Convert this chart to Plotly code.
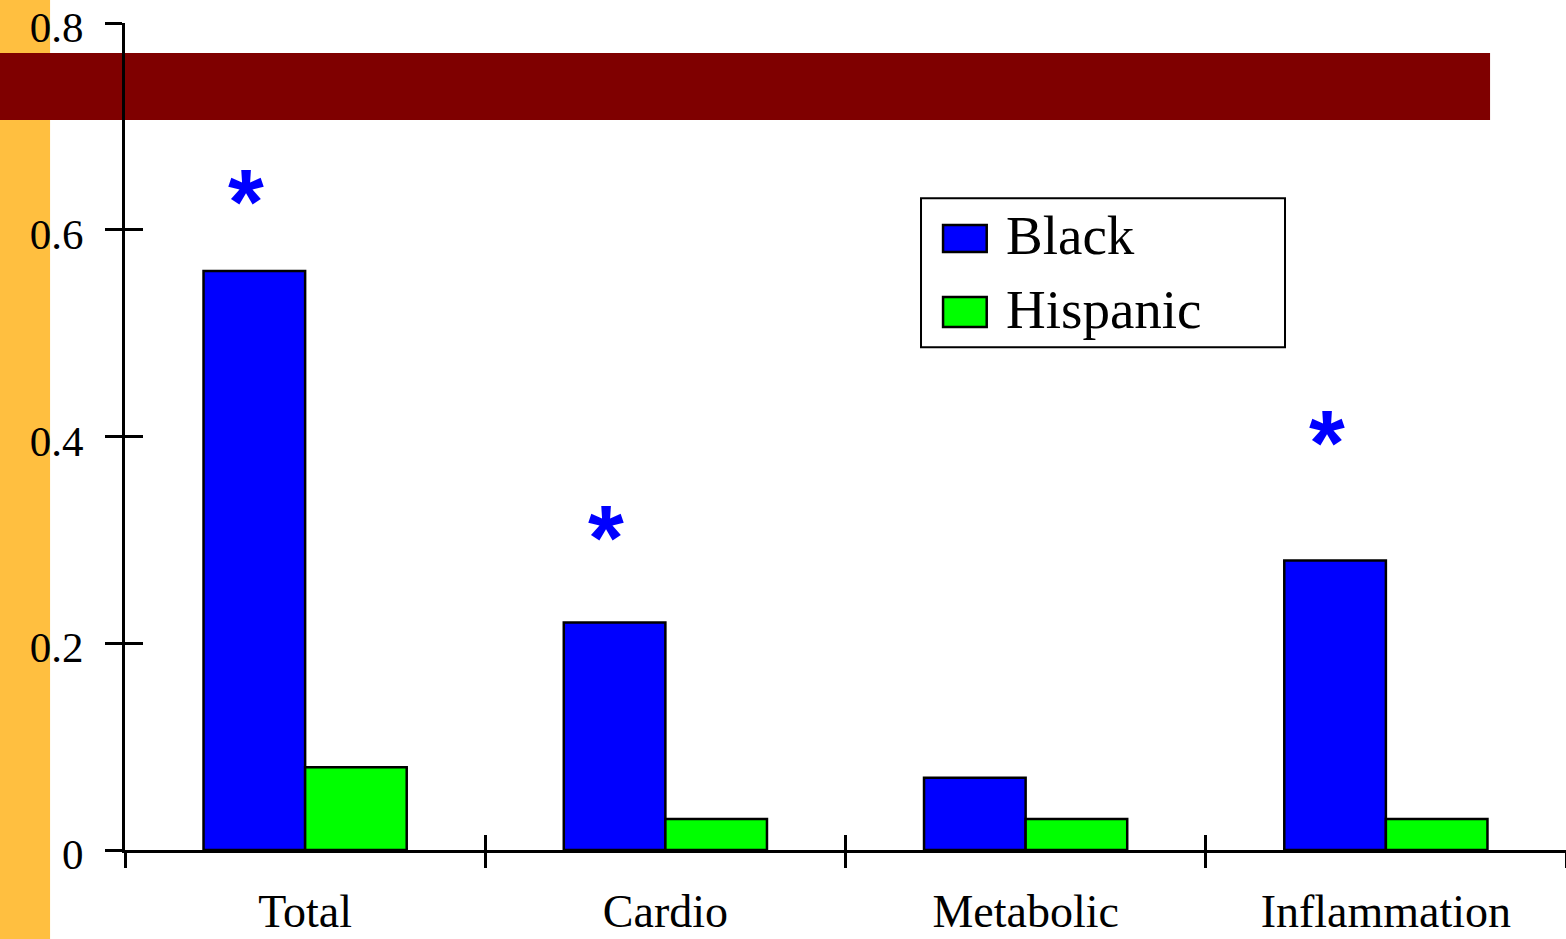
import plotly.graph_objects as go

# Group means by component
categories = ["Total", "Cardio", "Metabolic", "Inflammation"]
black = [0.56, 0.22, 0.07, 0.28]
hispanic = [0.08, 0.03, 0.03, 0.03]

# Significance markers (category, height of the star)
star_cats = ["Total", "Cardio", "Inflammation"]
star_y = [0.627, 0.302, 0.394]

y_ticks = [0, 0.2, 0.4, 0.6, 0.8]
y_tick_text = ["0", "0.2", "0.4", "0.6", "0.8"]
boundaries = [-0.5, 0.5, 1.5, 2.5]

SERIF = "Liberation Serif, Times New Roman, serif"
BLUE = "#0000FF"
GREEN = "#00FF00"

fig = go.Figure()
fig.add_trace(go.Bar(x=categories, y=black, name="Black",
                     marker=dict(color=BLUE, line=dict(color="black", width=2.5))))
fig.add_trace(go.Bar(x=categories, y=hispanic, name="Hispanic",
                     marker=dict(color=GREEN, line=dict(color="black", width=2.5))))
# empty trace so the overlay axes (inner tick halves) get drawn
fig.add_trace(go.Scatter(x=[None], y=[None], xaxis="x2", yaxis="y2", mode="markers",
                         showlegend=False, hoverinfo="skip"))

# Stars above the Black bars
for c, yv in zip(star_cats, star_y):
    fig.add_annotation(x=c, y=yv, xref="x", yref="y", text="<b>*</b>", showarrow=False,
                       xshift=-59, font=dict(family="Liberation Sans, Arial, sans-serif",
                                             size=92, color=BLUE))

shapes = [
    # left accent strip
    dict(type="rect", xref="paper", yref="paper", x0=-0.0868, x1=-0.052, y0=-0.11, y1=1.03,
         fillcolor="#FFBF40", line=dict(width=0), layer="below"),
    # title band
    dict(type="rect", xref="paper", yref="paper", x0=-0.0868, x1=0.9473, y0=0.8827, y1=0.9637,
         fillcolor="#7F0000", line=dict(width=0), layer="below"),
    # legend frame
    dict(type="rect", xref="paper", yref="paper", x0=0.5524, x1=0.805, y0=0.608, y1=0.788,
         fillcolor="white", line=dict(color="black", width=2)),
    # legend swatches
    dict(type="rect", xref="paper", yref="paper", x0=0.5677, x1=0.598, y0=0.7231, y1=0.7557,
         fillcolor=BLUE, line=dict(color="black", width=2.5)),
    dict(type="rect", xref="paper", yref="paper", x0=0.5677, x1=0.598, y0=0.6324, y1=0.6687,
         fillcolor=GREEN, line=dict(color="black", width=2.5)),
]
fig.update_layout(shapes=shapes)

for label, yp in [("Black", 0.743), ("Hispanic", 0.654)]:
    fig.add_annotation(x=0.61, y=yp, xref="paper", yref="paper", xanchor="left", yanchor="middle",
                       text=label, showarrow=False, font=dict(family=SERIF, size=55, color="black"))

fig.update_layout(
    width=1566, height=939, autosize=False,
    margin=dict(l=125, r=0, t=23, b=89),
    paper_bgcolor="white", plot_bgcolor="white",
    barmode="group", bargap=0.436, bargroupgap=0,
    showlegend=False,
    font=dict(family=SERIF, color="black"),
    xaxis=dict(type="category", categoryorder="array", categoryarray=categories,
               range=[-0.5, 3.5], showgrid=False, zeroline=False, automargin=False,
               showline=True, linecolor="black", linewidth=3,
               ticks="outside", ticklen=15, tickwidth=3, tickcolor="black",
               tickson="boundaries", tickfont=dict(family=SERIF, size=46, color="black"),
               ticklabelstandoff=19, ticklabeloverflow="allow"),
    xaxis2=dict(overlaying="x", anchor="y", side="bottom", range=[-0.5, 3.5],
                tickmode="array", tickvals=boundaries, ticks="inside", automargin=False,
                ticklen=15, tickwidth=3, tickcolor="black", showticklabels=False,
                showgrid=False, zeroline=False, showline=False),
    yaxis=dict(range=[0, 0.8], tickmode="array", tickvals=y_ticks, ticktext=y_tick_text,
               showgrid=False, zeroline=False, showline=True, linecolor="black", linewidth=3,
               automargin=False, ticks="outside", ticklen=17, tickwidth=3, tickcolor="black",
               tickfont=dict(family=SERIF, size=43, color="black"), ticklabelstandoff=13,
               ticklabelshift=4, ticklabeloverflow="allow"),
    yaxis2=dict(overlaying="y", anchor="x", side="left", range=[0, 0.8], automargin=False,
                tickmode="array", tickvals=y_ticks, ticks="inside", ticklen=18, tickwidth=3,
                tickcolor="black", showticklabels=False, showgrid=False, zeroline=False,
                showline=False),
)

fig.write_html("out.html")
